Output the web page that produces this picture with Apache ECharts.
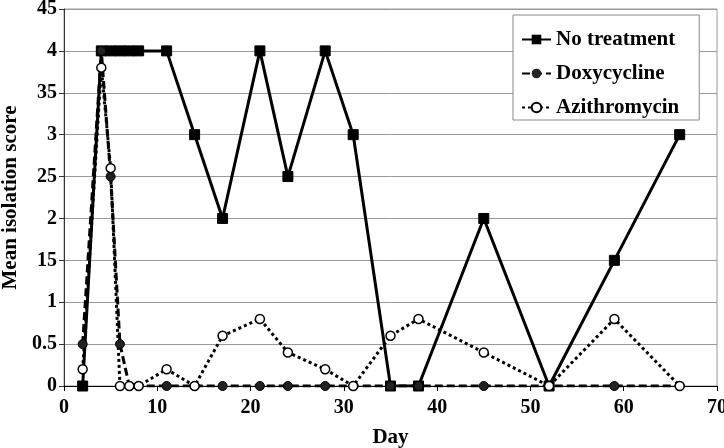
<!DOCTYPE html>
<html>
<head>
<meta charset="utf-8">
<script src="https://cdn.jsdelivr.net/npm/echarts@6/dist/echarts.min.js"></script>
<style>
  html, body { margin: 0; padding: 0; background: #fff; }
  #chart { width: 724px; height: 448px; }
</style>
</head>
<body>
<div id="chart"></div>
<script>
// days of the sampling
const days = [2, 4, 5, 6, 7, 8, 11, 14, 17, 21, 24, 28, 31, 35, 38, 45, 52, 59, 66]
const noTreatment = [0, 4, 4, 4, 4, 4, 4, 3, 2, 4, 2.5, 4, 3, 0, 0, 2, 0, 1.5, 3]
const doxycycline = [0.5, 4, 2.5, 0.5, 0, 0, 0, 0, 0, 0, 0, 0, 0, 0, 0, 0, 0, 0, 0]
const azithromycin = [0.2, 3.8, 2.6, 0, 0, 0, 0.2, 0, 0.6, 0.8, 0.4, 0.2, 0, 0.6, 0.8, 0.4, 0, 0.8, 0]
// y tick labels as printed (decimal points lost in the original)
const yTickLabels = ['0', '0.5', '1', '15', '2', '25', '3', '35', '4', '45']

const font = "'Liberation Serif', 'Times New Roman', serif"

function pairs(ys) {
  let out = []
  for (let i = 0; i < days.length; i++) {
    out.push([days[i], ys[i]])
  }
  return out
}

const chart = echarts.init(document.getElementById('chart'))
const options = {
  animation: false,
  backgroundColor: '#fff',
  textStyle: { fontFamily: font },
  grid: {
    left: 64,
    right: 7,
    top: 9,
    bottom: 62,
    containLabel: false,
    outerBoundsMode: 'none',
    show: true,
    borderColor: '#999',
    borderWidth: 1
  },
  legend: {
    orient: 'vertical',
    left: 513,
    top: 15,
    padding: [14, 20, 2, 8],
    itemGap: 13,
    itemWidth: 29,
    itemHeight: 12,
    backgroundColor: '#fff',
    borderColor: '#888',
    borderWidth: 1,
    borderRadius: 0,
    textStyle: { fontFamily: font, fontWeight: 'bold', fontSize: 21, color: '#000' },
    data: ['No treatment', 'Doxycycline', 'Azithromycin']
  },
  xAxis: {
    type: 'value',
    min: 0,
    max: 70,
    interval: 10,
    name: 'Day',
    nameLocation: 'middle',
    nameGap: 41,
    nameTextStyle: { fontFamily: font, fontWeight: 'bold', fontSize: 21, color: '#000' },
    axisLine: { lineStyle: { color: '#000', width: 1 } },
    axisTick: { show: true, inside: false, length: 5, lineStyle: { color: '#000' } },
    axisLabel: { fontFamily: font, fontWeight: 'bold', fontSize: 20, color: '#000', margin: 12 },
    splitLine: { show: false }
  },
  yAxis: {
    type: 'value',
    min: 0,
    max: 4.5,
    interval: 0.5,
    name: 'Mean isolation score',
    nameLocation: 'middle',
    nameGap: 43,
    nameTextStyle: { fontFamily: font, fontWeight: 'bold', fontSize: 21, color: '#000' },
    axisLine: { show: true, lineStyle: { color: '#333', width: 1 } },
    axisTick: { show: true, inside: false, length: 5, lineStyle: { color: '#333' } },
    axisLabel: {
      fontFamily: font, fontWeight: 'bold', fontSize: 20, color: '#000', margin: 7,
      formatter: function (v) {
        return yTickLabels[Math.round(v / 0.5)]
      }
    },
    splitLine: { show: true, lineStyle: { color: '#999', width: 1 } }
  },
  series: [
    {
      name: 'No treatment',
      type: 'line',
      data: pairs(noTreatment),
      symbol: 'rect',
      symbolSize: 10,
      itemStyle: { color: '#000', borderColor: '#000' },
      lineStyle: { color: '#000', width: 3, type: 'solid' }
    },
    {
      name: 'Doxycycline',
      type: 'line',
      data: pairs(doxycycline),
      symbol: 'circle',
      symbolSize: 9,
      itemStyle: { color: '#222', borderColor: '#000' },
      lineStyle: { color: '#000', width: 3, type: [8, 4] }
    },
    {
      name: 'Azithromycin',
      type: 'line',
      data: pairs(azithromycin),
      symbol: 'circle',
      symbolSize: 9,
      itemStyle: { color: '#fff', borderColor: '#000', borderWidth: 1.5 },
      lineStyle: { color: '#000', width: 3, type: [3, 3] }
    }
  ]
}
chart.setOption(options)
</script>
</body>
</html>
